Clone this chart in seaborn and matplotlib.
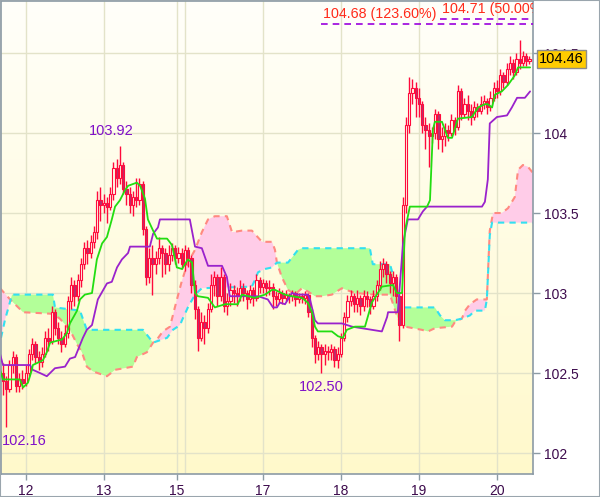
import numpy as np
import pandas as pd
import matplotlib
matplotlib.use("Agg")
import matplotlib.pyplot as plt
from matplotlib.colors import LinearSegmentedColormap
from matplotlib.patches import Rectangle
import seaborn as sns

sns.set_style("white")
plt.rcParams["font.family"] = ["Liberation Sans", "DejaVu Sans"]

# hourly bars, open = previous close
first_open = 102.50
closes = [102.45, 102.40, 102.55, 102.60, 102.42, 102.46, 102.44, 102.50, 102.62, 102.68,
          102.60, 102.57, 102.62, 102.72, 102.70, 102.88, 102.78, 102.72, 102.68, 102.75,
          102.95, 103.05, 102.98, 103.08, 103.18, 103.28, 103.25, 103.32, 103.38, 103.58,
          103.55, 103.56, 103.54, 103.62, 103.78, 103.72, 103.80, 103.65, 103.62, 103.55,
          103.60, 103.58, 103.68, 103.40, 103.10, 103.22, 103.18, 103.22, 103.28, 103.25,
          103.18, 103.24, 103.28, 103.22, 103.25, 103.18, 103.27, 103.22, 103.05, 102.90,
          102.72, 102.82, 102.78, 102.90, 103.05, 103.10, 102.98, 103.10, 102.92, 102.95,
          103.02, 103.00, 102.98, 103.03, 103.00, 102.96, 103.02, 102.97, 103.08, 103.04,
          103.06, 103.03, 103.04, 102.98, 102.96, 103.00, 102.97, 102.99, 102.98, 103.00,
          102.96, 102.98, 102.97, 102.99, 102.88, 102.72, 102.62, 102.66, 102.62, 102.64,
          102.63, 102.65, 102.58, 102.62, 102.72, 102.85, 102.95, 102.98, 102.93, 102.97,
          102.92, 102.98, 102.96, 102.92, 102.98, 103.05, 103.15, 103.18, 103.12, 103.06,
          103.10, 102.98, 102.80, 103.55, 104.05, 104.25, 104.28, 104.22, 104.18, 104.05,
          104.02, 103.98, 104.00, 104.12, 103.96, 103.98, 104.02, 104.00, 104.08, 104.04,
          104.26, 104.12, 104.18, 104.14, 104.10, 104.16, 104.14, 104.18, 104.20, 104.16,
          104.22, 104.28, 104.26, 104.36, 104.32, 104.40, 104.44, 104.38, 104.46, 104.44,
          104.48, 104.45, 104.46]
highs = [102.56, 102.48, 102.58, 102.64, 102.62, 102.50, 102.52, 102.55, 102.65, 102.72,
         102.70, 102.64, 102.66, 102.76, 102.78, 102.92, 102.90, 102.82, 102.76, 102.80,
         102.98, 103.10, 103.08, 103.12, 103.22, 103.32, 103.33, 103.36, 103.42, 103.64,
         103.66, 103.62, 103.60, 103.66, 103.82, 103.84, 103.92, 103.82, 103.70, 103.66,
         103.64, 103.72, 103.72, 103.70, 103.42, 103.28, 103.30, 103.26, 103.35, 103.30,
         103.28, 103.30, 103.31, 103.30, 103.29, 103.28, 103.30, 103.29, 103.24, 103.08,
         102.92, 102.88, 102.86, 102.94, 103.12, 103.14, 103.12, 103.16, 103.12, 103.00,
         103.06, 103.05, 103.04, 103.08, 103.06, 103.02, 103.05, 103.04, 103.12, 103.10,
         103.09, 103.08, 103.08, 103.06, 103.01, 103.03, 103.02, 103.02, 103.00, 103.02,
         103.01, 103.00, 103.00, 103.01, 103.00, 102.90, 102.74, 102.70, 102.68, 102.68,
         102.67, 102.68, 102.67, 102.66, 102.75, 102.88, 102.99, 103.02, 103.00, 103.02,
         102.99, 103.02, 103.01, 102.98, 103.02, 103.08, 103.20, 103.22, 103.20, 103.14,
         103.14, 103.12, 103.00, 103.60, 104.10, 104.35, 104.34, 104.32, 104.28, 104.20,
         104.10, 104.06, 104.04, 104.15, 104.14, 104.04, 104.06, 104.05, 104.12, 104.10,
         104.30, 104.28, 104.22, 104.24, 104.18, 104.20, 104.19, 104.23, 104.24, 104.22,
         104.26, 104.32, 104.33, 104.40, 104.38, 104.44, 104.48, 104.46, 104.50, 104.58,
         104.51, 104.50, 104.48]
lows = [102.36, 102.16, 102.38, 102.50, 102.38, 102.38, 102.40, 102.42, 102.48, 102.58,
        102.56, 102.52, 102.54, 102.60, 102.64, 102.68, 102.74, 102.68, 102.63, 102.66,
        102.72, 102.90, 102.92, 102.95, 103.04, 103.15, 103.18, 103.22, 103.28, 103.34,
        103.45, 103.50, 103.44, 103.52, 103.58, 103.66, 103.68, 103.62, 103.55, 103.50,
        103.48, 103.54, 103.55, 103.36, 103.05, 103.06, 102.99, 103.12, 103.18, 103.10,
        103.12, 103.14, 103.20, 103.18, 103.19, 103.15, 103.14, 103.16, 103.00, 102.84,
        102.64, 102.70, 102.68, 102.75, 102.88, 102.98, 102.92, 102.95, 102.88, 102.86,
        102.92, 102.94, 102.92, 102.95, 102.95, 102.90, 102.94, 102.92, 102.95, 103.00,
        103.00, 102.98, 102.99, 102.90, 102.92, 102.94, 102.93, 102.95, 102.94, 102.95,
        102.92, 102.94, 102.94, 102.93, 102.85, 102.66, 102.56, 102.58, 102.50, 102.55,
        102.58, 102.58, 102.54, 102.53, 102.60, 102.70, 102.82, 102.92, 102.88, 102.88,
        102.86, 102.89, 102.91, 102.87, 102.90, 102.95, 103.02, 103.10, 103.06, 103.00,
        102.98, 102.94, 102.70, 102.78, 103.50, 104.00, 104.18, 104.10, 104.10, 104.00,
        103.90, 103.79, 103.94, 103.96, 103.90, 103.88, 103.92, 103.95, 103.98, 103.99,
        104.02, 104.08, 104.10, 104.08, 104.05, 104.08, 104.10, 104.12, 104.15, 104.12,
        104.14, 104.20, 104.22, 104.24, 104.28, 104.30, 104.36, 104.34, 104.36, 104.40,
        104.42, 104.42, 104.43]

# Tenkan-sen (green)
tenkan_idx = [-0.9, 0, 5.2, 6.2, 7.7, 8.9, 9.2, 12.3, 13.5, 14.5, 18.2, 19.7, 20.6, 22.8, 23.7,
              25.2, 27.4, 28.9, 30.5, 32, 33.5, 34.5, 36, 37.5, 38.5, 41.2, 42.2, 43.7, 44.6, 46.2,
              47.4, 50.5, 52, 53.5, 55.1, 56.9, 58.2, 59.1, 60, 63.1, 65.2, 68.3, 72.3, 73.5, 77.5,
              80.6, 82.8, 83.7, 86.8, 88.9, 92, 93.8, 95.1, 96, 96.9, 101.2, 103.1, 104.6, 105.8,
              108.3, 111.4, 113.5, 116.6, 120, 121.2, 122.8, 123.7, 125.2, 130.5, 131.4, 132.3,
              132.9, 135.1, 136, 136.9, 138.2, 140, 144.3, 146.2, 148.3, 149.2, 150.5, 151.4,
              153.5, 155.4, 157.5, 158.5, 162.2]
tenkan_val = [102.52, 102.46, 102.46, 102.41, 102.44, 102.52, 102.55, 102.58, 102.63, 102.69,
              102.71, 102.75, 102.81, 102.89, 102.96, 102.99, 103.00, 103.21, 103.31, 103.35,
              103.46, 103.54, 103.58, 103.64, 103.67, 103.69, 103.67, 103.59, 103.46, 103.39,
              103.34, 103.34, 103.30, 103.16, 103.15, 103.21, 103.19, 103.00, 102.98, 102.97,
              102.91, 102.93, 102.93, 102.99, 102.97, 102.99, 103.02, 103.02, 102.99, 102.98,
              102.97, 102.94, 102.88, 102.79, 102.76, 102.76, 102.73, 102.72, 102.77, 102.79,
              102.79, 102.94, 103.04, 103.05, 103.00, 103.00, 103.39, 103.54, 103.54, 103.58,
              104.02, 104.07, 104.07, 104.02, 103.97, 103.97, 104.09, 104.10, 104.16, 104.18,
              104.18, 104.16, 104.24, 104.26, 104.30, 104.36, 104.41, 104.41]

# Kijun-sen (purple)
kijun_idx = [-0.9, 0, 8.3, 9.2, 11.4, 13.5, 14.5, 16, 19.1, 20.6, 22.2, 24.6, 25.8, 27.4, 29.2,
             32, 33.5, 35.1, 36.6, 38.5, 39.1, 45.2, 46.2, 47.7, 48.3, 57.5, 59.1, 61.2, 63.1,
             67.4, 68.9, 69.8, 78.5, 81.5, 83.1, 84.3, 85.2, 86.8, 88.9, 90.8, 93.8, 94.5, 96,
             96.9, 104.3, 107.4, 116.6, 118.2, 118.5, 121.5, 123.1, 124.6, 127.7, 129.2, 130.5,
             147.4, 148.3, 149.2, 149.8, 152, 155.1, 156.6, 158.2, 160.6, 162.2]
kijun_val = [102.62, 102.55, 102.55, 102.52, 102.50, 102.48, 102.50, 102.53, 102.54, 102.59,
             102.60, 102.72, 102.77, 102.80, 102.96, 103.06, 103.07, 103.16, 103.21, 103.25,
             103.29, 103.29, 103.37, 103.41, 103.46, 103.46, 103.29, 103.28, 103.17, 103.17,
             103.10, 102.98, 102.98, 102.96, 102.91, 102.91, 102.94, 102.93, 103.00, 102.99,
             102.99, 102.96, 102.83, 102.81, 102.81, 102.79, 102.76, 102.85, 102.88, 102.88,
             103.31, 103.46, 103.46, 103.51, 103.54, 103.54, 103.57, 103.71, 104.06, 104.10,
             104.11, 104.16, 104.22, 104.22, 104.26]

# Senkou span A (cyan edge) and span B (salmon edge)
span_a_idx = [-0.6, 0.6, 2.8, 15.4, 16, 23.7, 25.8, 43.1, 46.2, 50.5, 52.3, 54.5, 55.1, 56.9,
              59.1, 61.2, 76.6, 77.5, 78.5, 80.6, 82.8, 84.3, 87.7, 90.8, 92, 112.9, 113.8,
              119.1, 122.8, 132.9, 134.5, 136, 139.1, 141.2, 143.7, 145.2, 148.3, 148.9, 149.8,
              150.5, 163.1]
span_a_val = [102.72, 102.83, 102.99, 102.99, 102.91, 102.89, 102.77, 102.77, 102.69, 102.72,
              102.77, 102.80, 102.83, 102.91, 102.99, 103.03, 103.04, 103.08, 103.13, 103.15,
              103.16, 103.19, 103.19, 103.27, 103.28, 103.28, 103.18, 103.18, 102.91, 102.91,
              102.86, 102.83, 102.83, 102.84, 102.86, 102.89, 102.89, 102.96, 103.36, 103.44,
              103.44]
span_b_idx = [-0.9, 2.2, 6.2, 15.4, 17.5, 20.6, 22.8, 24.3, 25.8, 27.7, 32, 34.5, 40, 41.2,
              44.3, 46.2, 47.4, 49.2, 51.4, 52.9, 55.1, 56.9, 59.1, 61.2, 63.1, 65.2, 68.9, 70.5,
              73.5, 76.6, 79.7, 82.8, 83.7, 84.3, 85.8, 87.7, 89.8, 92, 93.8, 96, 98.2, 101.2,
              104.3, 108.3, 114.5, 119.1, 121.5, 123.7, 128.9, 130.8, 132.9, 138.2, 139.1, 141.2,
              142.2, 143.7, 145.8, 147.7, 148.9, 149.8, 150.8, 153.5, 155.4, 157.5, 158.5, 160,
              161.5, 163.1]
span_b_val = [103.03, 102.96, 102.88, 102.87, 102.84, 102.77, 102.68, 102.63, 102.54, 102.51,
              102.48, 102.52, 102.54, 102.60, 102.63, 102.69, 102.71, 102.76, 102.79, 102.91,
              103.08, 103.19, 103.27, 103.38, 103.46, 103.48, 103.48, 103.38, 103.39, 103.39,
              103.32, 103.32, 103.27, 103.19, 103.10, 103.02, 102.99, 103.03, 103.01, 102.98,
              102.98, 102.99, 103.03, 103.00, 102.99, 102.99, 102.84, 102.79, 102.77, 102.76,
              102.78, 102.79, 102.82, 102.84, 102.89, 102.93, 102.96, 102.96, 102.96, 103.39,
              103.50, 103.50, 103.53, 103.60, 103.77, 103.80, 103.79, 103.75]

day_pos = [7, 31, 53.5, 80, 104, 128, 152]
day_labels = ["12", "13", "15", "17", "18", "19", "20"]
extra_day_lines = [56]
price_ticks = [102, 102.5, 103, 103.5, 104, 104.5]
price_labels = ["102", "102.5", "103", "103.5", "104", "104.5"]

fib_levels = [104.68, 104.71]
fib_start = [98, 134.5]
fib_texts = ["104.68 (123.60%)", "104.71 (50.00%)"]

extreme_bar = [36, 1, 98]
extreme_price = [103.92, 102.16, 102.50]
last_price = 104.46

# ---------------------------------------------------------------------------
n = len(closes)
df = pd.DataFrame({"bar": np.arange(n), "close": closes, "high": highs, "low": lows})
df["open"] = df["close"].shift(1).fillna(first_open)
df["up"] = df["close"] >= df["open"]

fig = plt.figure(figsize=(6.0, 4.97), dpi=100)
ax = fig.add_axes([1 / 600, 23 / 497, 532 / 600, 473 / 497])

# background gradient
bg = LinearSegmentedColormap.from_list("bg", ["#fff9cb", "#fffffa"])
ax.imshow(np.linspace(0, 1, 256).reshape(-1, 1), cmap=bg, aspect="auto",
          extent=[0, 1, 0, 1], transform=ax.transAxes, origin="lower", zorder=0)

grid_c = "#e3e3c9"
for p in price_ticks:
    ax.axhline(p, color=grid_c, lw=1, zorder=0.5)
for d in day_pos + extra_day_lines:
    ax.axvline(d, color=grid_c, lw=1, zorder=0.5)

# cloud
grid = np.union1d(span_a_idx, span_b_idx)
sa = np.interp(grid, span_a_idx, span_a_val)
sb = np.interp(grid, span_b_idx, span_b_val)
ax.fill_between(grid, sa, sb, where=sa >= sb, interpolate=True, color="#b3ff99", lw=0, zorder=1)
ax.fill_between(grid, sa, sb, where=sa < sb, interpolate=True, color="#ffcce8", lw=0, zorder=1)
ax.plot(span_b_idx, span_b_val, color="#ff8a80", lw=1.5, dashes=(3, 2.5), zorder=1.5)
ax.plot(span_a_idx, span_a_val, color="#33e0f0", lw=1.5, dashes=(3, 2.5), zorder=1.6)

# candles
red = "#ff0a3c"
ax.vlines(df["bar"], df["low"], df["high"], color=red, lw=1.0, zorder=3)
body_lo = df[["open", "close"]].min(axis=1)
body_h = (df["close"] - df["open"]).abs().clip(lower=0.004)
face = np.where(df["up"], "#fffbe8", "#b8306e")
ax.bar(df["bar"], body_h, bottom=body_lo, width=0.7, color=face, edgecolor=red,
       linewidth=0.8, zorder=3.5)

# tenkan / kijun
sns.lineplot(x=kijun_idx, y=kijun_val, color="#9a22cc", lw=1.3, estimator=None, sort=False,
             ax=ax, zorder=4)
sns.lineplot(x=tenkan_idx, y=tenkan_val, color="#22dd11", lw=1.3, estimator=None, sort=False,
             ax=ax, zorder=4.2)

# fibo levels
for lvl, st, txt in zip(fib_levels, fib_start, fib_texts):
    ax.plot([st, 170], [lvl, lvl], color="#9900dd", lw=1.2, dashes=(4, 3), zorder=5)
    ax.annotate(txt, xy=(st, lvl), xytext=(2, 3), textcoords="offset pixels",
                ha="left", va="bottom", fontsize=10.3, color="#ff2a1a", zorder=5,
                annotation_clip=False, clip_on=True)

# high / low labels
lab_c = "#8010c8"
ax.annotate(f"{extreme_price[0]:.2f}", xy=(extreme_bar[0], extreme_price[0]), xytext=(-9, 8),
            textcoords="offset pixels", ha="center", va="bottom", fontsize=10.5, color=lab_c)
ax.annotate(f"{extreme_price[1]:.2f}", xy=(extreme_bar[1], extreme_price[1]), xytext=(18, -7),
            textcoords="offset pixels", ha="center", va="top", fontsize=10.5, color=lab_c)
ax.annotate(f"{extreme_price[2]:.2f}", xy=(extreme_bar[2], extreme_price[2]), xytext=(0, -7),
            textcoords="offset pixels", ha="center", va="top", fontsize=10.5, color=lab_c)

ax.set_xlim(-0.6, 163.1)
ax.set_ylim(101.869, 104.825)

# axes styling
spine_c = "#8c9ba5"
for s in ax.spines.values():
    s.set_color(spine_c)
    s.set_linewidth(1.2)
ax.yaxis.tick_right()
ax.set_yticks(price_ticks)
ax.set_yticklabels(price_labels)
ax.set_xticks(day_pos)
ax.set_xticklabels(day_labels)
ax.tick_params(axis="y", which="both", right=True, left=False, length=5, width=1,
               color=spine_c, pad=3, labelsize=10, labelcolor="#3c0a4c")
ax.tick_params(axis="x", which="both", bottom=True, length=4, width=1,
               color=spine_c, pad=3, labelsize=10, labelcolor="#3c0a4c")
ax.set_xlabel("")
ax.set_ylabel("")

# last price box (covers the 104.5 tick label as in the source chart)
ax.annotate(f"{last_price:.2f}", xy=(1, last_price), xycoords=("axes fraction", "data"),
            xytext=(6, 0), textcoords="offset pixels", ha="left", va="center",
            fontsize=10.5, color="black", annotation_clip=False, zorder=10,
            bbox=dict(boxstyle="square,pad=0.14", fc="#ffcc00", ec="#8c8c8c", lw=1))

fig.patches.append(Rectangle((0, 0), 1, 1, transform=fig.transFigure, fill=False,
                             ec="#9aa5ad", lw=1.5))

fig.savefig("out.png", dpi=100)
